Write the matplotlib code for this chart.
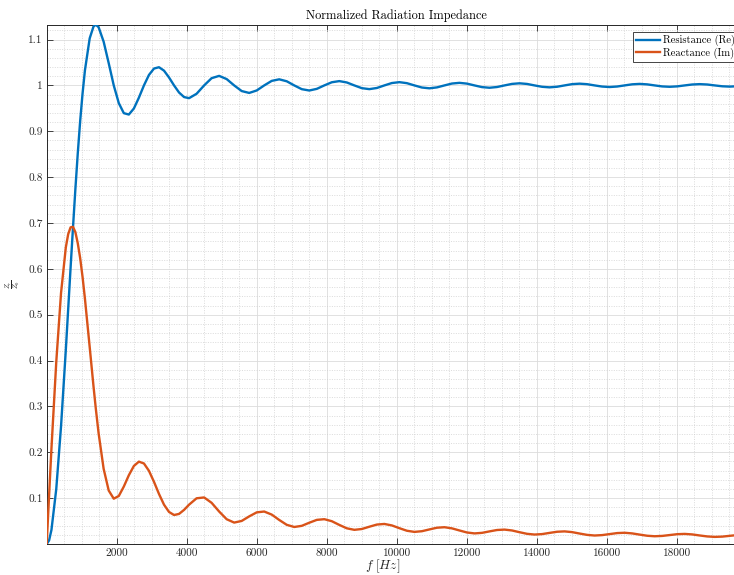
import matplotlib
matplotlib.use("Agg")
import matplotlib.pyplot as plt
from matplotlib.ticker import MultipleLocator

# ---- data ----
frequency_hz = [0, 68, 136, 273, 409, 546, 614, 682, 751, 819, 887, 955, 1024, 1092, 1228,
                1337, 1402, 1482, 1626, 1771, 1915, 2059, 2202, 2346, 2490, 2633, 2777, 2920,
                3064, 3207, 3350, 3493, 3637, 3780, 3923, 4066,
                4281, 4496, 4710, 4925, 5140, 5354, 5569, 5783,
                5998, 6212, 6427, 6641, 6856, 7070, 7285, 7499,
                7714, 7928, 8143, 8357, 8572, 8786, 9001, 9215,
                9430, 9644, 9858, 10073, 10287, 10502, 10716, 10931,
                11145, 11360, 11574, 11788, 12003, 12217, 12432, 12646,
                12860, 13075, 13289, 13504, 13718, 13932, 14147, 14361,
                14576, 14790, 15005, 15219, 15433, 15648, 15862, 16077,
                16291, 16505, 16720, 16934, 17149, 17363, 17577, 17792,
                18006, 18221, 18435, 18649, 18864, 19078, 19293, 19507,
                19721, 19936, 20150]

resistance = [0.0, 0.0078, 0.0308, 0.1199, 0.2561, 0.4233, 0.5126, 0.6023, 0.6902, 0.7739,
              0.8516, 0.9215, 0.9823, 1.0330, 1.1027,
              1.1285, 1.1324, 1.1270, 1.0955, 1.0485, 1.0000, 0.9614, 0.9395, 0.9365, 0.9497,
              0.9733, 1.0000, 1.0228, 1.0368, 1.0397, 1.0322, 1.0174, 1.0000, 0.9845, 0.9746,
              0.9722,
              0.9818, 1.0000, 1.0158, 1.0208, 1.0138, 1.0000, 0.9877, 0.9836,
              0.9890, 1.0000, 1.0099, 1.0133, 1.0090, 1.0000, 0.9918, 0.9889,
              0.9925, 1.0000, 1.0069, 1.0094, 1.0064, 1.0000, 0.9940, 0.9919,
              0.9944, 1.0000, 1.0052, 1.0071, 1.0049, 1.0000, 0.9954, 0.9937,
              0.9957, 1.0000, 1.0041, 1.0056, 1.0039, 1.0000, 0.9963, 0.9949,
              0.9965, 1.0000, 1.0033, 1.0046, 1.0032, 1.0000, 0.9970, 0.9958,
              0.9971, 1.0000, 1.0028, 1.0038, 1.0027, 1.0000, 0.9975, 0.9965,
              0.9976, 1.0000, 1.0024, 1.0033, 1.0023, 1.0000, 0.9978, 0.9970,
              0.9979, 1.0000, 1.0020, 1.0028, 1.0020, 1.0000, 0.9981, 0.9974,
              0.9982, 1.0000, 1.0018]

reactance = [0.0, 0.1057, 0.2087, 0.3969, 0.5470, 0.6468, 0.6757, 0.6905, 0.6917, 0.6801,
             0.6559, 0.6238, 0.5824, 0.5349, 0.4293,
             0.3436, 0.2956, 0.2417, 0.1640, 0.1166, 0.0988, 0.1047, 0.1252, 0.1500, 0.1702,
             0.1796, 0.1756, 0.1596, 0.1356, 0.1091, 0.0858, 0.0699, 0.0632, 0.0656, 0.0744,
             0.0858,
             0.0997, 0.1015, 0.0898, 0.0708, 0.0540, 0.0467, 0.0503, 0.0602,
             0.0690, 0.0708, 0.0641, 0.0524, 0.0418, 0.0371, 0.0396, 0.0464,
             0.0526, 0.0541, 0.0497, 0.0416, 0.0342, 0.0309, 0.0327, 0.0377,
             0.0424, 0.0437, 0.0405, 0.0345, 0.0289, 0.0264, 0.0279, 0.0318,
             0.0355, 0.0366, 0.0341, 0.0295, 0.0251, 0.0231, 0.0243, 0.0275,
             0.0305, 0.0314, 0.0295, 0.0257, 0.0222, 0.0206, 0.0216, 0.0242,
             0.0267, 0.0275, 0.0259, 0.0228, 0.0199, 0.0185, 0.0194, 0.0216,
             0.0238, 0.0245, 0.0231, 0.0205, 0.0180, 0.0169, 0.0176, 0.0195,
             0.0214, 0.0220, 0.0209, 0.0186, 0.0165, 0.0155, 0.0161, 0.0178,
             0.0195, 0.0200, 0.0190]

series_labels = ["Resistance (Re)", "Reactance (Im)"]
xtick_values = [2000, 4000, 6000, 8000, 10000, 12000, 14000, 16000, 18000]
xtick_labels = ["2000", "4000", "6000", "8000", "10000", "12000", "14000", "16000", "18000"]
ytick_values = [0.1, 0.2, 0.3, 0.4, 0.5, 0.6, 0.7, 0.8, 0.9, 1.0, 1.1]
ytick_labels = ["0.1", "0.2", "0.3", "0.4", "0.5", "0.6", "0.7", "0.8", "0.9", "1", "1.1"]
title_text = "Normalized Radiation Impedance"
xlabel_text = r"$f\ [Hz]$"
ylabel_text = r"$\frac{Z_r}{Z_0}$"

# ---- style ----
plt.rcParams["font.family"] = ["cmr10", "DejaVu Serif"]
plt.rcParams["mathtext.fontset"] = "cm"
plt.rcParams["axes.formatter.use_mathtext"] = True
plt.rcParams["axes.unicode_minus"] = False

axis_color = "#262626"
blue = "#0072BD"
orange = "#D95319"

fig = plt.figure(figsize=(7.34, 5.75), dpi=100)
ax = fig.add_axes([46.7 / 734, 31 / 575, 700.3 / 734, 519.3 / 575])

ax.plot(frequency_hz, resistance, color=blue, lw=1.7, label=series_labels[0], zorder=3,
        solid_joinstyle="round")
ax.plot(frequency_hz, reactance, color=orange, lw=1.7, label=series_labels[1], zorder=3,
        solid_joinstyle="round")

ax.set_xlim(0, 20000)
ax.set_ylim(0, max(resistance))

ax.set_xticks(xtick_values, labels=xtick_labels)
ax.set_yticks(ytick_values, labels=ytick_labels)
ax.xaxis.set_minor_locator(MultipleLocator(500))
ax.yaxis.set_minor_locator(MultipleLocator(0.02))

ax.set_axisbelow(True)
ax.grid(which="major", color="#dcdcdc", lw=0.6, ls="-")
ax.grid(which="minor", color="#cfcfcf", lw=0.5, ls=(0, (1.5, 2)))

ax.tick_params(which="major", direction="in", length=4, width=0.6, top=True, right=True,
               colors=axis_color, labelsize=8.1, pad=3)
ax.tick_params(which="minor", length=0, top=True, right=True)
for s in ax.spines.values():
    s.set_color(axis_color)
    s.set_linewidth(0.7)

ax.set_title(title_text, fontsize=8.9, color="#000000", pad=4)
ax.set_xlabel(xlabel_text, fontsize=9.5, color=axis_color, va="bottom")
ax.xaxis.set_label_coords(0.48, -0.0595)
ax.set_ylabel(ylabel_text, fontsize=7, color=axis_color, va="center")
ax.yaxis.set_label_coords(-0.048, 0.5)

leg = ax.legend(loc="upper left", bbox_to_anchor=(632.7 / 734, 1 - 32 / 575),
                bbox_transform=fig.transFigure, fontsize=7.6, frameon=True, fancybox=False,
                framealpha=1, edgecolor=axis_color, borderaxespad=0, borderpad=0.3,
                handlelength=2.3, handletextpad=0.3, labelspacing=0.12)
leg.get_frame().set_linewidth(0.6)

fig.savefig("out.png", dpi=100)
